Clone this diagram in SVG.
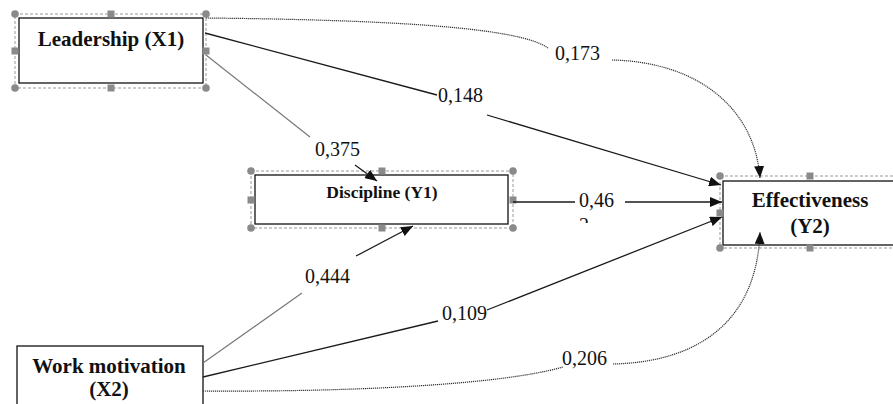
<svg xmlns="http://www.w3.org/2000/svg" width="893" height="404" viewBox="0 0 893 404">
<style>
.box{fill:#fff;stroke:#111;stroke-width:1.3}
.sel{fill:none;stroke:#999;stroke-width:1;stroke-dasharray:3,2}
.h{fill:#8a8a8a}
.t{font-family:'Liberation Serif','Times New Roman',Tinos,serif;font-weight:bold;fill:#111;text-anchor:middle}
.lbl{font-family:'Liberation Serif','Times New Roman',Tinos,serif;font-size:20px;fill:#111}
.ln{fill:none;stroke:#1a1a1a;stroke-width:1.3}
.gr{fill:none;stroke:#777;stroke-width:1.2}
.dot{fill:none;stroke:#333;stroke-width:1.2;stroke-dasharray:1.2,0.8}
</style>
<defs>
<marker id="ah" markerUnits="userSpaceOnUse" markerWidth="13" markerHeight="10" refX="12" refY="5" orient="auto">
<path d="M0,0 L12,5 L0,10 z" fill="#111"/>
</marker>
<clipPath id="clip2"><rect x="570" y="210" width="30" height="13"/></clipPath>
</defs>
<rect width="893" height="404" fill="#fff"/>

<g id="leadership">
<rect class="box" x="19" y="18" width="184" height="65"/>
<rect class="sel" x="15" y="14" width="191" height="74"/>
<circle class="h" cx="15" cy="14" r="3.8"/><rect class="h" x="107.5" y="10.5" width="7" height="7"/><circle class="h" cx="206" cy="14" r="3.8"/>
<rect class="h" x="11.5" y="47.5" width="7" height="7"/><rect class="h" x="202.5" y="47.5" width="7" height="7"/>
<circle class="h" cx="15" cy="88" r="3.8"/><rect class="h" x="107.5" y="84.5" width="7" height="7"/><circle class="h" cx="206" cy="88" r="3.8"/>
<text class="t" x="111" y="46" font-size="21">Leadership (X1)</text>
</g>

<g id="discipline">
<rect class="box" x="255" y="175" width="253" height="49"/>
<rect class="sel" x="251" y="171" width="262" height="57"/>
<circle class="h" cx="251" cy="171" r="3.8"/><rect class="h" x="378.5" y="167.5" width="7" height="7"/><circle class="h" cx="513" cy="171" r="3.8"/>
<rect class="h" x="247.5" y="196.5" width="7" height="7"/><rect class="h" x="509.5" y="196.5" width="7" height="7"/>
<circle class="h" cx="251" cy="228" r="3.8"/><rect class="h" x="378.5" y="224.5" width="7" height="7"/><circle class="h" cx="513" cy="228" r="3.8"/>
<text class="t" x="382" y="198" font-size="17.5">Discipline (Y1)</text>
</g>

<g id="effectiveness">
<rect class="box" x="723" y="181" width="200" height="64"/>
<rect class="sel" x="720" y="176" width="200" height="72"/>
<circle class="h" cx="720" cy="176" r="3.8"/><rect class="h" x="806.5" y="172.5" width="7" height="7"/>
<rect class="h" x="716.5" y="209.5" width="7" height="7"/>
<circle class="h" cx="720" cy="248" r="3.8"/><rect class="h" x="806.5" y="244.5" width="7" height="7"/>
<text class="t" x="810" y="207" font-size="21">Effectiveness</text>
<text class="t" x="810" y="233" font-size="21">(Y2)</text>
</g>

<g id="work-motivation">
<rect class="box" x="17" y="346" width="186" height="70"/>
<text class="t" x="109" y="373" font-size="21">Work motivation</text>
<text class="t" x="109" y="396" font-size="21">(X2)</text>
</g>

<g id="connectors">
<path class="ln" d="M205,33 L437,95"/>
<path class="ln" d="M487,115 L721,185" marker-end="url(#ah)"/>
<path class="gr" d="M206,55 L310,137"/>
<path class="ln" d="M355,165 L377,181" marker-end="url(#ah)"/>
<path class="ln" d="M513,202 L575,202"/>
<path class="ln" d="M625,202 L722,202" marker-end="url(#ah)"/>
<path class="gr" d="M203,363 L302,293"/>
<path class="ln" d="M356,256 L413,226" marker-end="url(#ah)"/>
<path class="ln" d="M203,377 L438,321"/>
<path class="ln" d="M487,310 L722,217" marker-end="url(#ah)"/>
<path class="dot" d="M206,18 C400,20 520,28 548,48"/>
<path class="dot" d="M612,60 C700,62 755,110 760,178" marker-end="url(#ah)"/>
<path class="dot" d="M203,391 C350,392 500,385 563,367"/>
<path class="dot" d="M613,364 C700,362 757,320 760,232" marker-end="url(#ah)"/>
<text class="lbl" x="555" y="60">0,173</text>
<text class="lbl" x="438" y="102">0,148</text>
<text class="lbl" x="315" y="156">0,375</text>
<text class="lbl" x="579" y="207">0,46</text>
<text class="lbl" x="579" y="232" clip-path="url(#clip2)">2</text>
<text class="lbl" x="305" y="283">0,444</text>
<text class="lbl" x="442" y="320">0,109</text>
<text class="lbl" x="562" y="365">0,206</text>
</g>
</svg>
